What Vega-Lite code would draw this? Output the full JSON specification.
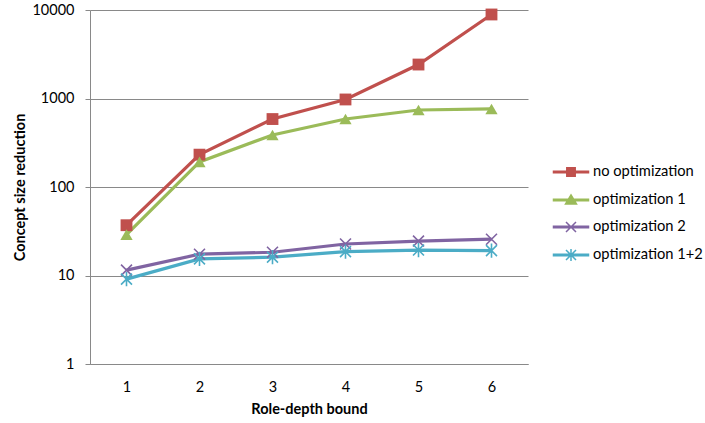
{
  "$schema": "https://vega.github.io/schema/vega-lite/v6.json",
  "width": 438,
  "height": 354,
  "autosize": {"type": "none"},
  "padding": {"left": 90, "top": 10, "right": 177, "bottom": 59},
  "background": "white",
  "config": {
    "view": {"stroke": null},
    "font": "Lato",
    "axis": {"labelFont": "Lato", "titleFont": "Lato", "labelColor": "#000000", "titleColor": "#000000"}
  },
  "data": {
    "values": [
      {"series": "no optimization", "depth": 1, "value": 37},
      {"series": "no optimization", "depth": 2, "value": 232},
      {"series": "no optimization", "depth": 3, "value": 586},
      {"series": "no optimization", "depth": 4, "value": 975},
      {"series": "no optimization", "depth": 5, "value": 2420},
      {"series": "no optimization", "depth": 6, "value": 8900},
      {"series": "optimization 1", "depth": 1, "value": 29},
      {"series": "optimization 1", "depth": 2, "value": 192},
      {"series": "optimization 1", "depth": 3, "value": 387},
      {"series": "optimization 1", "depth": 4, "value": 587},
      {"series": "optimization 1", "depth": 5, "value": 741},
      {"series": "optimization 1", "depth": 6, "value": 762},
      {"series": "optimization 2", "depth": 1, "value": 11.5},
      {"series": "optimization 2", "depth": 2, "value": 17.4},
      {"series": "optimization 2", "depth": 3, "value": 18.3},
      {"series": "optimization 2", "depth": 4, "value": 22.7},
      {"series": "optimization 2", "depth": 5, "value": 24.5},
      {"series": "optimization 2", "depth": 6, "value": 25.7},
      {"series": "optimization 1+2", "depth": 1, "value": 9.1},
      {"series": "optimization 1+2", "depth": 2, "value": 15.4},
      {"series": "optimization 1+2", "depth": 3, "value": 16.1},
      {"series": "optimization 1+2", "depth": 4, "value": 18.6},
      {"series": "optimization 1+2", "depth": 5, "value": 19.4},
      {"series": "optimization 1+2", "depth": 6, "value": 19.1}
    ]
  },
  "encoding": {
    "x": {
      "field": "depth", "type": "ordinal",
      "scale": {"type": "point", "padding": 0.5},
      "axis": {
        "title": "Role-depth bound", "labelAngle": 0, "ticks": false, "tickSize": 0,
        "labelPadding": 16, "labelFontSize": 14.5, "titleFontSize": 14.5, "titleFontWeight": "bold",
        "titlePadding": 9, "domainColor": "#898989", "domainWidth": 1, "grid": false
      }
    },
    "y": {
      "field": "value", "type": "quantitative",
      "scale": {"type": "log", "domain": [1, 10000], "nice": false},
      "axis": {
        "title": "Concept size reduction", "values": [1, 10, 100, 1000, 10000], "format": "d",
        "labelFontSize": 14.5, "titleFontSize": 14.5, "titleFontWeight": "bold",
        "labelPadding": 11, "tickSize": 5, "tickColor": "#898989", "domainColor": "#898989",
        "grid": true, "gridColor": "#898989", "gridWidth": 1, "titlePadding": 4
      }
    },
    "color": {
      "field": "series", "type": "nominal",
      "scale": {"domain": ["no optimization", "optimization 1", "optimization 2", "optimization 1+2"], "range": ["#C0504D", "#9BBB59", "#8064A2", "#4BACC6"]},
      "legend": null
    }
  },
  "layer": [
    {
      "mark": {"type": "line", "strokeWidth": 3.2},
      "encoding": {
        "color": {
          "field": "series", "type": "nominal",
          "scale": {"domain": ["no optimization", "optimization 1", "optimization 2", "optimization 1+2"], "range": ["#C0504D", "#9BBB59", "#8064A2", "#4BACC6"]},
          "legend": {
            "title": null, "orient": "none", "legendX": 470, "legendY": 151, "padding": 0,
            "symbolSize": 400, "symbolStrokeWidth": 1.5, "labelOffset": 11, "rowPadding": 9,
            "labelFontSize": 14.7, "labelFont": "Lato", "labelColor": "#000000",
            "encode": {
              "symbols": {
                "update": {
                  "shape": {"signal": "datum.value === 'no optimization' ? 'M-1.75,-0.08H1.75V0.08H-1.75ZM-0.42,-0.42H0.42V0.42H-0.42Z' : datum.value === 'optimization 1' ? 'M-1.75,-0.08H1.75V0.08H-1.75ZM0,-0.5L0.55,0.4H-0.55Z' : datum.value === 'optimization 2' ? 'M-1.75,-0.08H1.75V0.08H-1.75ZM-0.5,-0.5L0.5,0.5M-0.5,0.5L0.5,-0.5' : 'M-1.75,-0.08H1.75V0.08H-1.75ZM-0.5,-0.5L0.5,0.5M-0.5,0.5L0.5,-0.5M0,-0.6V0.6'"},
                  "fill": {"signal": "scale('color', datum.value)"},
                  "stroke": {"signal": "scale('color', datum.value)"},
                  "strokeWidth": {"value": 1.5},
                  "opacity": {"value": 1}
                }
              }
            }
          }
        },
        "detail": {"field": "series"}
      }
    },
    {
      "transform": [{"filter": "datum.series === 'no optimization'"}],
      "mark": {"type": "point", "shape": "square", "filled": true, "size": 140, "opacity": 1}
    },
    {
      "transform": [{"filter": "datum.series === 'optimization 1'"}],
      "mark": {"type": "point", "shape": "triangle-up", "filled": true, "size": 150, "opacity": 1}
    },
    {
      "transform": [{"filter": "datum.series === 'optimization 2'"}],
      "mark": {"type": "point", "shape": "M-1,-1L1,1M-1,1L1,-1", "filled": false, "strokeWidth": 1.6, "size": 120, "opacity": 1}
    },
    {
      "transform": [{"filter": "datum.series === 'optimization 1+2'"}],
      "mark": {"type": "point", "shape": "M-1,-1L1,1M-1,1L1,-1M0,-1.3V1.3", "filled": false, "strokeWidth": 1.6, "size": 120, "opacity": 1}
    }
  ]
}
